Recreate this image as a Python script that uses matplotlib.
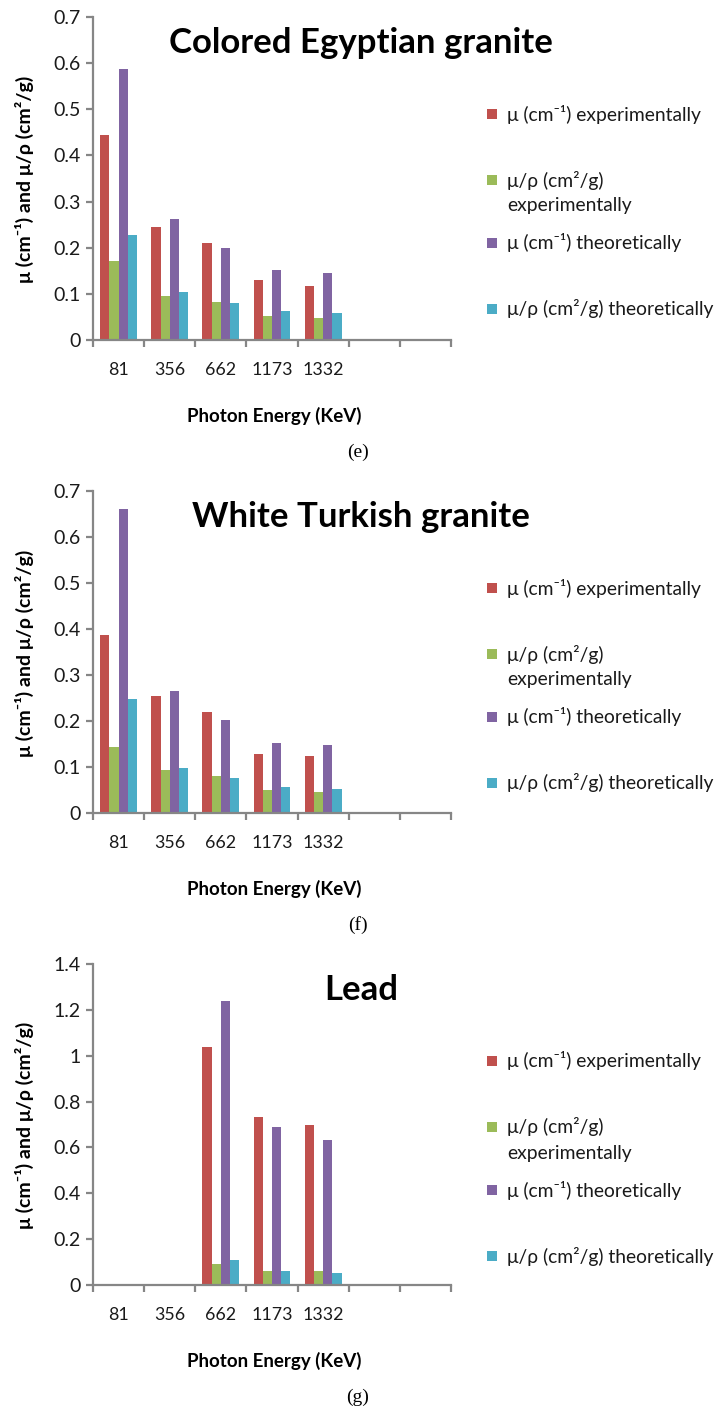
import matplotlib.pyplot as plt
from matplotlib.patches import Rectangle
from matplotlib.ticker import FixedLocator, FormatStrFormatter

W, H = 716, 1408

energies = ['81', '356', '662', '1173', '1332', '', '']
series = ['μ (cm⁻¹) experimentally',
          'μ/ρ (cm²/g)\nexperimentally',
          'μ (cm⁻¹) theoretically',
          'μ/ρ (cm²/g) theoretically']
colors = ['#C0504D', '#9BBB59', '#8064A2', '#4BACC6']

# (e) Colored Egyptian granite
egypt_mu_exp = [0.445, 0.245, 0.210, 0.131, 0.117]
egypt_mr_exp = [0.172, 0.096, 0.083, 0.051, 0.048]
egypt_mu_th = [0.587, 0.262, 0.200, 0.152, 0.145]
egypt_mr_th = [0.228, 0.103, 0.080, 0.062, 0.058]

# (f) White Turkish granite
turk_mu_exp = [0.386, 0.254, 0.220, 0.128, 0.125]
turk_mr_exp = [0.143, 0.094, 0.080, 0.049, 0.045]
turk_mu_th = [0.661, 0.265, 0.202, 0.153, 0.147]
turk_mr_th = [0.247, 0.098, 0.077, 0.056, 0.053]

# (g) Lead
lead_mu_exp = [0, 0, 1.038, 0.731, 0.697]
lead_mr_exp = [0, 0, 0.091, 0.061, 0.061]
lead_mu_th = [0, 0, 1.240, 0.690, 0.633]
lead_mr_th = [0, 0, 0.111, 0.061, 0.054]

panels = [
    ('Colored Egyptian granite', '(e)', 0.7, 0.1,
     [egypt_mu_exp, egypt_mr_exp, egypt_mu_th, egypt_mr_th], 17, 340),
    ('White Turkish granite', '(f)', 0.7, 0.1,
     [turk_mu_exp, turk_mr_exp, turk_mu_th, turk_mr_th], 491, 813),
    ('Lead', '(g)', 1.4, 0.2,
     [lead_mu_exp, lead_mr_exp, lead_mu_th, lead_mr_th], 964, 1285),
]

SANS = ['Lato', 'DejaVu Sans']
AXC = '#868686'


def fx(x):
    return x / W


def fy(y):
    return 1 - y / H


fig = plt.figure(figsize=(W / 100, H / 100), dpi=100)

for title, cap, ymax, step, data, top, bot in panels:
    ax = fig.add_axes([fx(93), fy(bot), 358 / W, (bot - top) / H])
    w = 0.18
    for j, vals in enumerate(data):
        xs = [i + (j - 1.5) * w for i in range(len(vals))]
        ax.bar(xs, vals, w, color=colors[j], linewidth=0)
    ax.set_xlim(-0.5, len(energies) - 0.5)
    ax.set_ylim(0, ymax)
    for s in ['top', 'right']:
        ax.spines[s].set_visible(False)
    for s in ['left', 'bottom']:
        ax.spines[s].set_color(AXC)
        ax.spines[s].set_linewidth(1.6)
    ax.xaxis.set_major_locator(FixedLocator([i - 0.5 for i in range(len(energies) + 1)]))
    ax.xaxis.set_major_formatter(plt.NullFormatter())
    ax.xaxis.set_minor_locator(FixedLocator(list(range(len(energies)))))
    ax.set_xticklabels(energies, minor=True)
    n = int(round(ymax / step))
    ax.set_yticks([k * step for k in range(n + 1)])
    ax.yaxis.set_major_formatter(FormatStrFormatter('%g'))
    ax.tick_params(axis='both', which='major', direction='out', length=5,
                   width=1.6, color=AXC, labelcolor='#1a1a1a')
    ax.tick_params(axis='x', which='minor', length=0, pad=16, labelcolor='#1a1a1a')
    ax.tick_params(axis='y', pad=4)
    for lab in ax.get_yticklabels():
        lab.set_family(SANS)
        lab.set_fontsize(14)
    for lab in ax.get_xticklabels(minor=True):
        lab.set_family(SANS)
        lab.set_fontsize(12.8)

    fig.text(fx(361), fy(top + 26), title, family=SANS, fontsize=25,
             fontweight='bold', ha='center', va='center')
    fig.text(fx(24), fy((top + bot) / 2 + 1), 'μ (cm⁻¹) and μ/ρ (cm²/g)',
             family=SANS, fontsize=14, fontweight='bold', rotation=90,
             ha='center', va='center')
    fig.text(fx(274), fy(bot + 76), 'Photon Energy (KeV)', family=SANS,
             fontsize=13.5, fontweight='bold', ha='center', va='center')
    fig.text(fx(358), fy(bot + 112), cap, family='Liberation Serif',
             fontsize=14, ha='center', va='center')

    # legend, Excel style
    rows = [97, 163, 226, 292]
    for lbl, c, r in zip(series, colors, rows):
        y = top + r
        fig.patches.append(Rectangle((fx(487), fy(y + 5)), 10 / W, 10 / H,
                                     transform=fig.transFigure,
                                     facecolor=c, edgecolor='none'))
        for k, line in enumerate(lbl.split('\n')):
            fig.text(fx(507), fy(y + k * 26), line, family=SANS,
                     fontsize=13.9, ha='left', va='center', color='#1a1a1a')

fig.savefig('out.png', dpi=100)
